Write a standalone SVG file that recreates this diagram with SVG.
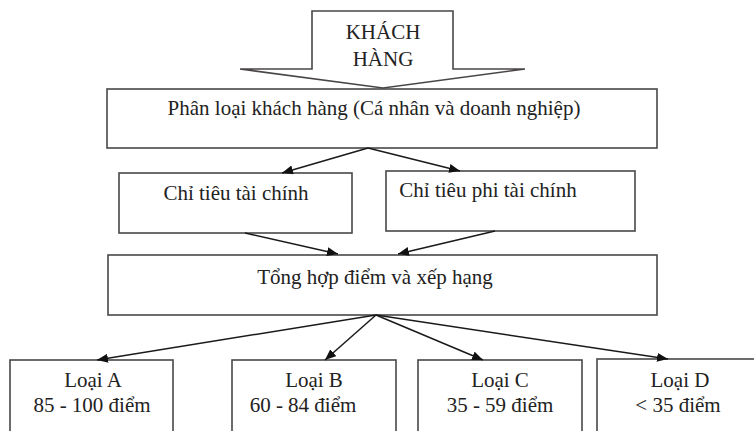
<svg xmlns="http://www.w3.org/2000/svg" width="754" height="431" viewBox="0 0 754 431">
  <defs>
    <marker id="head" markerUnits="userSpaceOnUse" markerWidth="12" markerHeight="10" refX="11" refY="4.5" orient="auto">
      <path d="M0,0 L11,4.5 L0,9 z" fill="#111"/>
    </marker>
    <style>
      .box { fill: #fff; stroke: #4a4646; stroke-width: 1.6; }
      .t { font-family: "Liberation Serif", "Times New Roman", serif; font-size: 21px; fill: #222; text-anchor: middle; }
      .edge { stroke: #1a1a1a; stroke-width: 1.5; fill: none; marker-end: url(#head); }
    </style>
  </defs>
  <rect width="754" height="431" fill="#fff"/>

  <g id="khach-hang">
    <polygon class="box" points="312,11 453,11 453,69 525,69 383,88 240,69 312,69"/>
    <text class="t" x="383" y="39">KHÁCH</text>
    <text class="t" x="383" y="66">HÀNG</text>
  </g>

  <g id="phan-loai">
    <rect class="box" x="107" y="89" width="550" height="59"/>
    <text class="t" x="374" y="115">Phân loại khách hàng (Cá nhân và doanh nghiệp)</text>
  </g>

  <g id="chi-tieu-tai-chinh">
    <rect class="box" x="119" y="173" width="233" height="60"/>
    <text class="t" x="236" y="200">Chỉ tiêu tài chính</text>
  </g>

  <g id="chi-tieu-phi-tai-chinh">
    <rect class="box" x="386" y="171" width="249" height="60"/>
    <text class="t" x="488" y="197">Chỉ tiêu phi tài chính</text>
  </g>

  <g id="tong-hop">
    <rect class="box" x="108" y="255" width="549" height="60"/>
    <text class="t" x="375" y="284">Tổng hợp điểm và xếp hạng</text>
  </g>

  <g id="loai-a">
    <rect class="box" x="10" y="360" width="163" height="80"/>
    <text class="t" x="93" y="387">Loại A</text>
    <text class="t" x="92" y="412">85 - 100 điểm</text>
  </g>

  <g id="loai-b">
    <rect class="box" x="232" y="360" width="164" height="80"/>
    <text class="t" x="314" y="387">Loại B</text>
    <text class="t" x="303" y="412">60 - 84 điểm</text>
  </g>

  <g id="loai-c">
    <rect class="box" x="418" y="360" width="164" height="80"/>
    <text class="t" x="500" y="387">Loại C</text>
    <text class="t" x="500" y="412">35 - 59 điểm</text>
  </g>

  <g id="loai-d">
    <rect class="box" x="597" y="359" width="170" height="80"/>
    <text class="t" x="680" y="387">Loại D</text>
    <text class="t" x="678" y="412">&lt; 35 điểm</text>
  </g>

  <g id="connectors">
    <line class="edge" x1="368" y1="148" x2="282" y2="173"/>
    <line class="edge" x1="368" y1="148" x2="460" y2="171"/>
    <line class="edge" x1="245" y1="233" x2="338" y2="254"/>
    <line class="edge" x1="495" y1="231" x2="398" y2="254"/>
    <line class="edge" x1="376" y1="315" x2="97" y2="360"/>
    <line class="edge" x1="376" y1="315" x2="325" y2="360"/>
    <line class="edge" x1="376" y1="315" x2="483" y2="360"/>
    <line class="edge" x1="376" y1="315" x2="668" y2="359"/>
  </g>
</svg>
